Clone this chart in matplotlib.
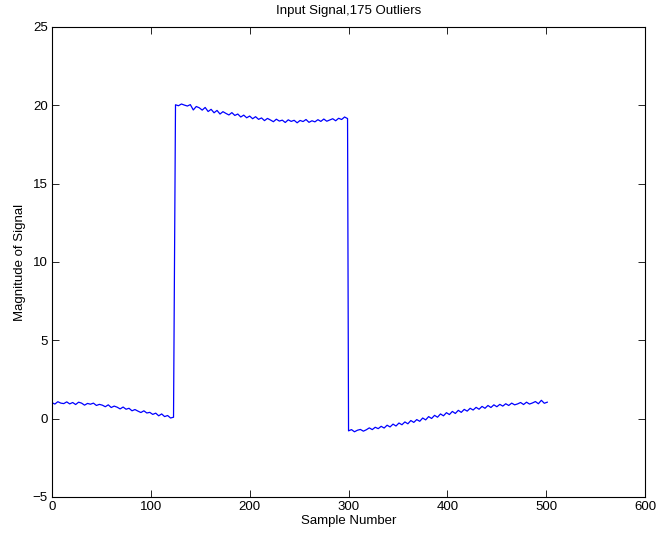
import numpy as np
import matplotlib
matplotlib.use("Agg")
import matplotlib.pyplot as plt

plt.rcParams['font.family'] = ['Liberation Sans', 'DejaVu Sans']

# Sample step between readings
step = 3

# Segment 1: samples 0..123
seg1_start = 0
seg1 = [1.02, 0.93, 1.08, 0.99, 0.96, 1.07, 0.94, 1.03, 0.90, 1.05,
        0.99, 0.86, 0.97, 0.92, 0.99, 0.84, 0.91, 0.86, 0.76, 0.88,
        0.71, 0.80, 0.73, 0.62, 0.74, 0.60, 0.66, 0.50, 0.58, 0.48,
        0.39, 0.50, 0.36, 0.40, 0.27, 0.35, 0.18, 0.30, 0.13, 0.20,
        0.04, 0.09]

# Segment 2: samples 125..299
seg2_start = 125
seg2 = [20.03, 19.97, 20.08, 20.01, 19.95, 20.04, 19.70, 19.92, 19.84, 19.69,
        19.86, 19.60, 19.74, 19.52, 19.67, 19.44, 19.59, 19.48, 19.38, 19.53,
        19.35, 19.44, 19.25, 19.37, 19.20, 19.31, 19.14, 19.27, 19.10, 19.19,
        19.02, 19.16, 19.06, 18.95, 19.11, 18.99, 19.05, 18.90, 19.07, 18.97,
        19.04, 18.88, 19.03, 18.96, 19.09, 18.91, 19.01, 18.94, 19.08, 18.97,
        19.12, 18.98, 19.06, 19.14, 19.01, 19.17, 19.09, 19.25, 19.15]

# Segment 3: samples 300..501
seg3_start = 300
seg3 = [-0.78, -0.70, -0.84, -0.74, -0.69, -0.80, -0.71, -0.59, -0.70, -0.55,
        -0.64, -0.49, -0.60, -0.42, -0.53, -0.35, -0.47, -0.28, -0.39, -0.21,
        -0.33, -0.12, -0.24, -0.06, -0.17, 0.04, -0.08, 0.13, 0.01, 0.21,
        0.09, 0.30, 0.18, 0.38, 0.26, 0.46, 0.33, 0.53, 0.40, 0.59,
        0.48, 0.66, 0.55, 0.72, 0.60, 0.78, 0.66, 0.84, 0.71, 0.88,
        0.76, 0.91, 0.80, 0.95, 0.84, 0.99, 0.88, 0.94, 1.03, 0.90,
        1.05, 0.93, 1.00, 1.09, 0.95, 1.17, 0.98, 1.05]

title = "Input Signal,175 Outliers"
xlabel = "Sample Number"
ylabel = "Magnitude of Signal"
xticks = [0, 100, 200, 300, 400, 500, 600]
yticks = [-5, 0, 5, 10, 15, 20, 25]

xs, ys = [], []
for start, vals in [(seg1_start, seg1), (seg2_start, seg2), (seg3_start, seg3)]:
    xs.extend(start + step * np.arange(len(vals)))
    ys.extend(vals)

fig = plt.figure(figsize=(6.57, 5.36), dpi=100)
ax = fig.add_axes([0.079, 0.0728, 0.903, 0.877])
ax.plot(xs, ys, color='#0000ff', linewidth=0.9)
ax.set_xlim(0, 600)
ax.set_ylim(-5, 25)
ax.set_xticks(xticks)
ax.set_yticks(yticks)
ax.tick_params(direction='in', top=True, right=True, labelsize=9.5, length=5, width=0.6, pad=3)
for s in ax.spines.values():
    s.set_linewidth(0.8)
ax.set_title(title, fontsize=9.5, pad=9)
ax.set_xlabel(xlabel, fontsize=9.5, labelpad=1)
ax.set_ylabel(ylabel, fontsize=9.5, labelpad=5)
fig.savefig("out.png", dpi=100)
